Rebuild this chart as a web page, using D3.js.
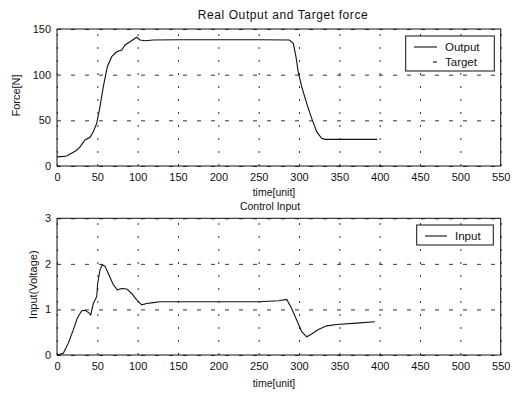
<!DOCTYPE html>
<html>
<head>
<meta charset="utf-8">
<script src="https://cdn.jsdelivr.net/npm/d3@7"></script>
<style>
  body { margin: 0; background: #fff; }
  text { font-family: "Liberation Sans", Arial, sans-serif; fill: #111; }
</style>
</head>
<body>
<svg id="chart" width="524" height="393"></svg>
<script>
// shared x ticks
const timeTicks = [0, 50, 100, 150, 200, 250, 300, 350, 400, 450, 500, 550];
const forceTicks = [0, 50, 100, 150];
const inputTicks = [0, 1, 2, 3];

// top panel: measured output force
const outTime = [0, 8, 12, 18, 24, 28.5, 34.7, 40.9, 45, 49.2, 53.3, 57.4, 62.4, 67.8, 74, 80.2, 84.3, 90.5, 98.8, 102.9, 109, 119.4, 150, 200, 250, 288, 292.9, 296.2, 299, 303.3, 309.5, 315.7, 321.9, 328, 332.2, 360, 397];
const outForce = [10, 10.5, 11, 14, 17, 21, 28.5, 31.4, 37.6, 46.7, 65, 86.8, 108.7, 119.7, 125, 127, 132.5, 136, 141, 138, 137.2, 138, 138.3, 138.3, 138.3, 138, 134.3, 119.7, 103, 86.8, 68.6, 52.2, 37.6, 30.3, 29.2, 29.2, 29.2];

// bottom panel: control input voltage
const inTime = [0, 7.8, 14, 20.2, 25.2, 30.6, 34.7, 40, 41.8, 45, 49.2, 50.4, 53.3, 56.1, 59.5, 63.6, 69.8, 74.8, 80.2, 86.4, 92.6, 98.8, 105, 111.2, 119.4, 127.7, 150, 200, 250, 275, 284.8, 290.9, 297.1, 303.3, 309.5, 315.7, 324, 334.3, 346.7, 371.5, 394];
const inVolt = [0, 0.04, 0.26, 0.55, 0.81, 0.97, 0.98, 0.92, 0.88, 1.13, 1.28, 1.57, 1.87, 1.98, 1.95, 1.79, 1.54, 1.43, 1.46, 1.45, 1.35, 1.21, 1.1, 1.13, 1.15, 1.17, 1.17, 1.17, 1.17, 1.19, 1.22, 1.02, 0.77, 0.51, 0.4, 0.46, 0.56, 0.64, 0.67, 0.7, 0.73];

const svg = d3.select('#chart');
const left = 57, right = 500.7;

function drawPanel(p) {
    const x = d3.scaleLinear().domain([0, 550]).range([left, right]);
    const y = d3.scaleLinear().domain([0, p.yMax]).range([p.bottom, p.top]);
    const g = svg.append('g');

    // x grid + labels (dotted grid like matlab)
    const xa = g.append('g')
        .attr('transform', `translate(0,${p.bottom})`)
        .call(d3.axisBottom(x).tickValues(timeTicks).tickSize(-(p.bottom - p.top)).tickPadding(7).tickFormat(d3.format('d')));
    xa.select('.domain').remove();
    xa.selectAll('line').attr('stroke', '#333').attr('stroke-dasharray', '2,11');
    xa.selectAll('text').attr('font-size', 11).attr('font-family', '"Liberation Sans", Arial, sans-serif');

    // y grid + labels
    const ya = g.append('g')
        .attr('transform', `translate(${left},0)`)
        .call(d3.axisLeft(y).tickValues(p.yTicks).tickSize(-(right - left)).tickPadding(6).tickFormat(d3.format('d')));
    ya.select('.domain').remove();
    ya.selectAll('line').attr('stroke', '#333').attr('stroke-dasharray', '4,10');
    ya.selectAll('text').attr('font-size', 11).attr('font-family', '"Liberation Sans", Arial, sans-serif');

    // axes box
    g.append('rect')
        .attr('x', left).attr('y', p.top)
        .attr('width', right - left).attr('height', p.bottom - p.top)
        .attr('fill', 'none').attr('stroke', '#111').attr('stroke-width', 1);

    // the curve
    const line = d3.line().x(d => x(d[0])).y(d => y(d[1]));
    g.append('path')
        .datum(p.time.map((t, i) => [t, p.values[i]]))
        .attr('d', line)
        .attr('fill', 'none')
        .attr('stroke', '#111')
        .attr('stroke-width', 1.1);

    // title and labels
    g.append('text')
        .attr('x', p.titleX).attr('y', p.titleY)
        .attr('text-anchor', 'middle').attr('font-size', p.titleSize)
        .attr('letter-spacing', p.titleSpacing)
        .text(p.title);
    g.append('text')
        .attr('x', 274).attr('y', p.xlabelY)
        .attr('text-anchor', 'middle').attr('font-size', 10.5)
        .text('time[unit]');
    g.append('text')
        .attr('transform', `translate(${p.ylabelX},${(p.top + p.bottom) / 2 - 2}) rotate(-90)`)
        .attr('text-anchor', 'middle').attr('font-size', 11)
        .text(p.ylabel);

    // legend
    const lg = p.legend;
    g.append('rect')
        .attr('x', lg.x).attr('y', lg.y).attr('width', lg.w).attr('height', lg.h)
        .attr('fill', '#fff').attr('stroke', '#111').attr('stroke-width', 1);
    lg.items.forEach((it, i) => {
        const cy = lg.y + 11 + i * 15;
        g.append('line')
            .attr('x1', it.x1).attr('x2', it.x2).attr('y1', cy).attr('y2', cy)
            .attr('stroke', '#111').attr('stroke-width', 1.1);
        g.append('text')
            .attr('x', lg.textX).attr('y', cy + 4)
            .attr('font-size', 11.5)
            .text(it.label);
    });
}

drawPanel({
    top: 29, bottom: 166, yMax: 150, yTicks: forceTicks,
    time: outTime, values: outForce,
    title: 'Real Output and Target force', titleX: 283, titleY: 19, titleSize: 12, titleSpacing: 0.6,
    ylabel: 'Force[N]', ylabelX: 20, xlabelY: 196,
    legend: { x: 405.7, y: 36, w: 88.6, h: 35, textX: 445,
        items: [{ label: 'Output', x1: 414, x2: 437 }, { label: 'Target', x1: 433, x2: 437 }] }
});

drawPanel({
    top: 218.3, bottom: 355, yMax: 3, yTicks: inputTicks,
    time: inTime, values: inVolt,
    title: 'Control Input', titleX: 270, titleY: 210, titleSize: 10.5, titleSpacing: 0,
    ylabel: 'Input(Voltage)', ylabelX: 37, xlabelY: 387,
    legend: { x: 416.7, y: 225, w: 76.6, h: 20, textX: 455,
        items: [{ label: 'Input', x1: 425, x2: 447 }] }
});
</script>
</body>
</html>
